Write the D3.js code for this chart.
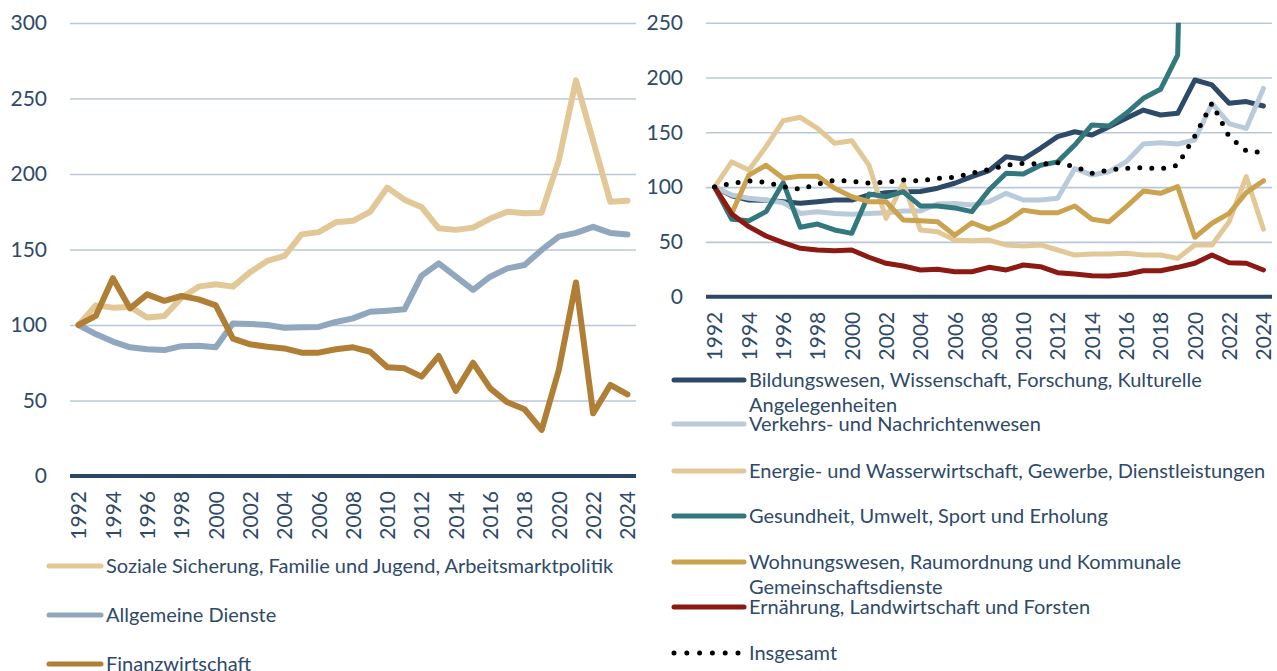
<!DOCTYPE html>
<html>
<head>
<meta charset="utf-8">
<script src="https://cdn.jsdelivr.net/npm/d3@7"></script>
<style>
  body { margin: 0; background: #fff; }
  text { font-family: Lato, "Noto Sans", sans-serif; fill: #2E4A68; }
</style>
</head>
<body>
<svg id="chart" width="1277" height="671"></svg>
<script>
// years on the category axis
const years = [1992, 1993, 1994, 1995, 1996, 1997, 1998, 1999, 2000, 2001, 2002,
  2003, 2004, 2005, 2006, 2007, 2008, 2009, 2010, 2011, 2012, 2013, 2014, 2015,
  2016, 2017, 2018, 2019, 2020, 2021, 2022, 2023, 2024];
const yearLabels = [1992, 1994, 1996, 1998, 2000, 2002, 2004, 2006, 2008, 2010,
  2012, 2014, 2016, 2018, 2020, 2022, 2024];

// left panel (index, 1992 = 100)
const soziale = [100, 113, 111.5, 112, 105, 106, 118, 125.4, 127, 125.4, 135, 142.4, 145.7,
  160, 161.5, 168, 169, 175, 191, 183, 178, 164, 163, 164.5, 170.5, 175, 174, 174.4,
  209, 262, 222, 181.7, 182.3];
const allgemeine = [100, 94, 89, 85.2, 84, 83.4, 86, 86.3, 85.2, 101, 100.7, 100, 98.2,
  98.5, 98.7, 102, 104.4, 108.8, 109.5, 110.4, 132.7, 140.8, 132, 123.2, 132, 137.5, 139.7,
  149.7, 158.5, 161, 165, 161, 160];
const finanz = [100, 106, 131, 111, 120.3, 116, 119.2, 117, 113, 91, 87.2, 85.6, 84.5,
  81.7, 81.7, 83.9, 85.2, 82.3, 72, 71.3, 65.8, 79.5, 56.3, 75, 58, 48.8, 44.2, 30.5,
  70.2, 128.2, 41.5, 60.3, 54];

// right panel
const bildung = [100, 92, 88.2, 88, 86.7, 85.2, 86.7, 88.2, 88.2, 92.8, 94.9, 95.8, 96,
  99, 103.5, 109.5, 115, 127.7, 125.6, 135.4, 146, 150.5, 147.5, 155, 162.8, 170.3, 165.8,
  167.3, 197.7, 193.2, 176.5, 178, 174];
const verkehr = [100, 92.8, 89.8, 88.2, 85.8, 76, 77.6, 76, 75.2, 76, 76.6, 78.2, 78.2,
  84.6, 85, 83.7, 86.7, 94.3, 88.2, 88.2, 89.8, 117, 111, 114, 123.2, 139.3, 140.5,
  139.3, 143, 176.5, 158, 153.6, 190];
const energie = [100, 123, 115.6, 136.9, 160.6, 163.7, 153.6, 140, 142.3, 120, 71.5, 103.5, 60.9,
  59.3, 51.7, 51.1, 51.7, 47.2, 46.3, 47.2, 42.6, 38, 39, 39, 39.6, 38, 38, 35,
  47.2, 47.2, 68.4, 109.5, 61.5];
// 2020-2024 run off the top of the scale in the original
const gesundheit = [100, 70.6, 69.3, 77.6, 104, 63.3, 66.3, 60.9, 57.8, 93.7, 91.2, 95.8, 82.8,
  82.8, 81, 77.6, 97.4, 112.6, 112, 120, 123, 138.4, 156.7, 155.8, 167.3, 181, 189.2, 220.5,
  900, 910, 880, 870, 880];
const wohnung = [100, 76, 111, 120, 108, 110, 110, 98.9, 91.2, 86.7, 86.7, 70, 69.3,
  68.4, 56, 67.5, 61.5, 68.4, 79, 76.6, 76.6, 82.8, 70.6, 68.4, 82, 96.4, 94.3, 100.4,
  54.2, 67, 76, 95, 105.8];
const ernaehrung = [100, 75.5, 63.9, 55.4, 49.3, 44.2, 42.6, 42, 42.6, 36, 30.5, 28, 24.4,
  25, 22.8, 22.8, 26.8, 24.4, 28.9, 27.4, 21.9, 20.7, 19.2, 18.9, 20.4, 23.7, 23.7, 26.8,
  30.5, 38, 31, 30.5, 24.4];
const insgesamt = [100, 103.5, 105.6, 104.4, 100.4, 98, 102.8, 106.2, 105.3, 103.7, 104.4, 106.5, 105.6,
  108, 109, 112.6, 116.2, 119.9, 121.7, 121, 122.3, 118.6, 112.6, 115.6, 117.2, 117.7, 116.5,
  120, 146.6, 176.5, 146, 133, 131.4];

const leftTicks = [0, 50, 100, 150, 200, 250, 300];
const rightTicks = [0, 50, 100, 150, 200, 250];

const leftSeries = [
  { name: ["Soziale Sicherung, Familie und Jugend, Arbeitsmarktpolitik"], values: soziale, color: "#E2C797" },
  { name: ["Allgemeine Dienste"], values: allgemeine, color: "#91A7BD" },
  { name: ["Finanzwirtschaft"], values: finanz, color: "#B07E35" }
];
const rightSeries = [
  { name: ["Bildungswesen, Wissenschaft, Forschung, Kulturelle", "Angelegenheiten"], values: bildung, color: "#2F4A69" },
  { name: ["Verkehrs- und Nachrichtenwesen"], values: verkehr, color: "#B9CBDA" },
  { name: ["Energie- und Wasserwirtschaft, Gewerbe, Dienstleistungen"], values: energie, color: "#E2C797" },
  { name: ["Gesundheit, Umwelt, Sport und Erholung"], values: gesundheit, color: "#33787C" },
  { name: ["Wohnungswesen, Raumordnung und Kommunale", "Gemeinschaftsdienste"], values: wohnung, color: "#CBA34F" },
  { name: ["Ernährung, Landwirtschaft und Forsten"], values: ernaehrung, color: "#8C1A13" },
  { name: ["Insgesamt"], values: insgesamt, color: "#000", dotted: true }
];

const svg = d3.select("#chart");

function drawPanel(cfg) {
  const w = cfg.x1 - cfg.x0;
  const h = cfg.y1 - cfg.y0;
  const g = svg.append("g").attr("transform", `translate(${cfg.x0}, ${cfg.y0})`);

  const x = d3.scalePoint().domain(years).range([0, w]).padding(0.5);
  const y = d3.scaleLinear().domain([0, d3.max(cfg.ticks)]).range([h, 0]);

  // gridlines + y labels
  const yAxis = g.append("g")
    .call(d3.axisLeft(y).tickValues(cfg.ticks).tickSize(-w).tickPadding(23));
  yAxis.select(".domain").remove();
  yAxis.selectAll("line").attr("stroke", "#B8C8D8").attr("stroke-width", 1.6);
  yAxis.selectAll("text").style("font-size", "21px").attr("fill", "#2E4A68");

  const clipId = "clip" + cfg.id;
  g.append("clipPath").attr("id", clipId)
    .append("rect").attr("x", -5).attr("y", 0).attr("width", w + 10).attr("height", h + 5);

  const line = d3.line().x((d, i) => x(years[i])).y(d => y(d));

  g.append("g").attr("clip-path", `url(#${clipId})`)
    .selectAll("path")
    .data(cfg.series)
    .join("path")
    .attr("d", d => line(d.values))
    .attr("fill", "none")
    .attr("stroke", d => d.color)
    .attr("stroke-width", d => d.dotted ? 5 : cfg.lineWidth)
    .attr("stroke-linejoin", "round")
    .attr("stroke-linecap", "round")
    .attr("stroke-dasharray", d => d.dotted ? "0 12" : null);

  // x axis (zero line) with rotated year labels
  const xAxis = g.append("g")
    .attr("transform", `translate(0, ${h})`)
    .call(d3.axisBottom(x).tickValues(yearLabels).tickSize(0));
  xAxis.select(".domain").attr("stroke", "#2C4763").attr("stroke-width", 4)
    .attr("d", `M0,0H${w}`);
  xAxis.selectAll("text")
    .style("font-size", "21px")
    .attr("fill", "#2E4A68")
    .attr("transform", "rotate(-90)")
    .attr("text-anchor", "end")
    .attr("x", -15)
    .attr("y", 0)
    .attr("dy", "0.35em");

  // legend
  const lg = svg.append("g");
  cfg.series.forEach((s, i) => {
    const ly = cfg.legendY[i];
    lg.append("line")
      .attr("x1", cfg.legendX).attr("x2", cfg.legendX + cfg.sampleW)
      .attr("y1", ly).attr("y2", ly)
      .attr("stroke", s.color)
      .attr("stroke-width", 5)
      .attr("stroke-linecap", "round")
      .attr("stroke-dasharray", s.dotted ? "0 12.8" : null);
    const t = lg.append("text")
      .attr("x", cfg.legendX + cfg.sampleW + 5)
      .attr("y", ly)
      .style("font-size", "20px");
    s.name.forEach((part, j) => {
      t.append("tspan")
        .attr("x", cfg.legendX + cfg.sampleW + 5)
        .attr("dy", j === 0 ? "0.35em" : "25px")
        .text(part);
    });
  });
}

drawPanel({
  id: "L", x0: 70, x1: 636, y0: 23, y1: 476, ticks: leftTicks, series: leftSeries,
  lineWidth: 6, legendX: 49, sampleW: 52, legendY: [566, 615, 664]
});
drawPanel({
  id: "R", x0: 706, x1: 1272, y0: 22.7, y1: 296.7, ticks: rightTicks, series: rightSeries,
  lineWidth: 5, legendX: 674, sampleW: 70, legendY: [380, 424, 471, 516, 562, 607, 653]
});
</script>
</body>
</html>
